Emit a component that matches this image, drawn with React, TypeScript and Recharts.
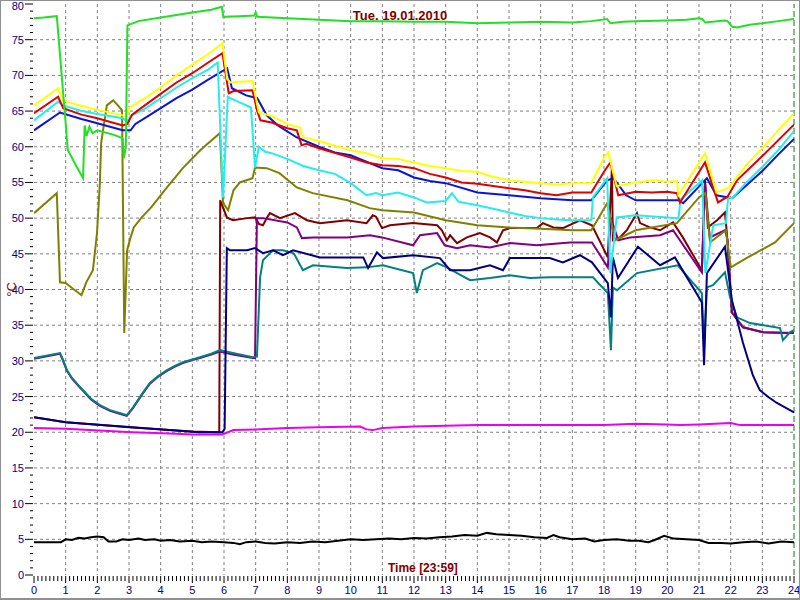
import React from 'react';
import { LineChart, Line, XAxis, YAxis, CartesianGrid, ReferenceLine } from 'recharts';

// hours 0..24, temperature in °C; each series is [time, value]
const greenSeries: [number, number][] = [
    [0, 78.0], [0.3, 78.1], [0.72, 78.3], [1.07, 59.5], [1.36, 57.1], [1.55, 55.6], [1.6, 63.0],
    [1.66, 61.5], [1.75, 62.8], [1.85, 61.9], [2.0, 62.3], [2.5, 61.7], [2.8, 61.2], [2.84, 58.4],
    [2.9, 60.0], [2.95, 77.0], [3.3, 77.6], [4.0, 78.1], [5.0, 78.8], [5.6, 79.2], [5.93, 79.6],
    [5.98, 78.2], [6.5, 78.3], [6.95, 78.4], [7.0, 78.8], [7.05, 78.2], [8, 78.0], [9, 77.8],
    [10, 77.6], [11, 77.6], [12, 77.5], [13, 77.5], [14, 77.3], [15, 77.4], [16, 77.5], [17, 77.4],
    [17.6, 77.6], [18.1, 77.9], [18.2, 77.3], [18.6, 77.5], [19, 77.6], [20, 77.7], [20.6, 77.8],
    [21.0, 78.0], [21.1, 77.9], [21.2, 77.4], [21.8, 77.7], [21.9, 77.6], [22.05, 76.8], [22.2, 76.7],
    [22.6, 77.1], [23, 77.3], [23.5, 77.6], [24, 77.9],
];

const yellowSeries: [number, number][] = [
    [0, 65.8], [0.76, 68.2], [0.92, 66.5], [1.5, 65.7], [2.0, 65.2], [2.8, 64.4], [2.92, 64.2],
    [3.0, 65.4], [3.5, 66.8], [4, 68.3], [4.5, 70.0], [5, 71.5], [5.5, 73.0], [5.95, 74.5],
    [6.1, 69.5], [6.2, 69.0], [6.5, 69.1], [6.9, 69.2], [7.0, 67.0], [7.1, 64.8], [7.5, 64.3],
    [8.0, 63.2], [8.4, 62.7], [8.5, 61.3], [9, 60.8], [10, 59.5], [10.5, 59.1], [11, 58.4],
    [11.5, 58.3], [12, 57.8], [12.5, 57.3], [13, 57.0], [13.5, 56.6], [14, 56.5], [14.5, 55.8],
    [15, 55.3], [16, 54.9], [16.5, 54.7], [17.0, 54.9], [17.6, 54.9], [18.0, 58.5], [18.13, 59.2],
    [18.4, 54.5], [19, 55.0], [19.5, 55.3], [20, 55.1], [20.3, 55.2], [20.35, 53.2], [21.19, 59.1],
    [21.55, 53.6], [21.95, 54.3], [22.5, 57.5], [23, 59.8], [23.5, 62.3], [24, 64.7],
];

const redSeries: [number, number][] = [
    [0, 64.7], [0.76, 67.0], [0.92, 65.4], [1.5, 64.5], [2, 64.0], [2.8, 63.0], [2.95, 63.2],
    [3.1, 64.5], [3.5, 65.8], [4, 67.4], [4.5, 69.0], [5, 70.3], [5.5, 71.8], [5.95, 73.1],
    [6.15, 67.5], [6.3, 67.8], [6.9, 67.9], [7.05, 65.0], [7.15, 63.7], [7.5, 63.4], [8.0, 62.6],
    [8.3, 62.3], [8.45, 60.2], [8.6, 60.4], [9, 59.8], [10, 58.5], [10.5, 57.8], [11, 57.4],
    [11.5, 57.3], [12, 57.0], [12.5, 56.2], [13, 55.7], [13.5, 55.0], [14, 54.8], [15, 54.2],
    [15.5, 53.9], [16, 53.5], [16.5, 53.2], [17, 53.6], [17.6, 53.6], [18.0, 56.5], [18.2, 57.8],
    [18.45, 53.2], [19, 53.7], [19.5, 53.6], [20, 53.7], [20.3, 53.5], [20.4, 52.2], [21.19, 57.8],
    [21.6, 52.2], [21.9, 53.0], [22.2, 55.3], [23, 58.7], [24, 63.1],
];

const cyanSeries: [number, number][] = [
    [0, 63.7], [0.76, 66.3], [0.92, 65.8], [1.5, 65.0], [2, 64.6], [2.8, 64.0], [2.95, 63.5],
    [3.05, 64.3], [3.5, 65.3], [4, 66.8], [4.5, 68.3], [5, 69.6], [5.5, 70.8], [5.8, 71.8],
    [5.97, 52.9], [6.12, 67.0], [6.2, 66.8], [6.6, 66.0], [6.85, 65.5], [6.98, 57.1], [7.1, 60.0],
    [7.3, 59.3], [7.5, 59.1], [8, 58.3], [8.5, 57.3], [9, 56.7], [9.5, 56.2], [10, 54.9],
    [10.5, 53.2], [10.8, 53.5], [11, 53.2], [11.5, 53.6], [12, 52.9], [12.4, 52.2], [13, 52.4],
    [13.2, 53.5], [13.4, 52.3], [14, 51.8], [14.5, 51.3], [15, 50.8], [15.5, 50.3], [16, 50.0],
    [16.5, 49.8], [17, 49.7], [17.6, 49.7], [17.65, 52.9], [18.1, 55.6], [18.2, 42.3], [18.4, 50.1],
    [19, 50.4], [20.35, 50.0], [20.42, 52.6], [21.1, 55.3], [21.2, 42.3], [21.45, 49.0], [21.85, 49.3],
    [21.92, 52.9], [22.05, 52.8], [22.5, 55.0], [23, 57.2], [23.5, 59.5], [24, 62.2],
];

const blueSeries: [number, number][] = [
    [0, 62.3], [0.82, 64.8], [1.5, 63.9], [2, 63.3], [2.8, 62.3], [3.05, 62.3], [3.2, 63.2],
    [3.5, 64.0], [4, 65.4], [4.5, 66.8], [5, 68.0], [5.5, 69.4], [6.1, 71.0], [6.25, 68.2],
    [6.7, 67.2], [7.05, 66.8], [7.35, 64.4], [7.7, 63.0], [8.3, 61.3], [9, 60.0], [9.5, 59.2],
    [10, 58.8], [11, 57.0], [11.5, 56.7], [12, 55.7], [12.5, 55.2], [13, 54.9], [14, 53.6],
    [15, 53.2], [16, 52.8], [17, 52.5], [17.6, 52.5], [18.1, 55.3], [18.3, 55.6], [18.7, 53.2],
    [19, 52.5], [20.35, 52.5], [20.5, 52.1], [21.25, 55.6], [21.55, 53.2], [22.05, 52.8],
    [22.5, 54.6], [23, 56.6], [23.5, 58.9], [24, 61.1],
];

const oliveSeries: [number, number][] = [
    [0, 50.7], [0.72, 53.5], [0.82, 41.0], [1.0, 40.9], [1.2, 40.2], [1.5, 39.2], [1.65, 41.0],
    [1.86, 42.7], [1.99, 47.9], [2.08, 54.9], [2.12, 60.5], [2.3, 65.8], [2.5, 66.5], [2.65, 65.8],
    [2.78, 65.1], [2.85, 33.9], [2.94, 45.5], [3.05, 47.3], [3.15, 48.7], [3.4, 50.1], [3.7, 51.5],
    [4.2, 54.3], [4.7, 57.0], [5.25, 59.5], [5.5, 60.5], [5.87, 61.9], [5.97, 52.1], [6.13, 51.1],
    [6.3, 53.9], [6.5, 55.0], [6.9, 55.6], [6.98, 57.1], [7.35, 57.0], [7.75, 56.3], [8.3, 54.3],
    [8.8, 53.5], [9.9, 52.5], [10.6, 51.4], [11.0, 51.1], [12, 50.8], [13, 49.7], [14, 49.0],
    [15, 48.7], [16, 48.5], [17, 48.3], [17.6, 48.3], [18.1, 52.1], [18.35, 46.9], [19.0, 48.3],
    [20.3, 49.3], [21.0, 52.9], [21.2, 53.5], [21.35, 46.6], [21.85, 48.3], [22.0, 43.1],
    [22.5, 44.4], [23.4, 46.6], [24, 49.3],
];

const maroonSeries: [number, number][] = [
    [0, 22.1], [1, 21.4], [3, 20.7], [5, 20.1], [5.85, 20.0], [5.88, 52.5], [6.09, 50.1],
    [6.28, 49.7], [6.73, 50.0], [6.98, 50.1], [7.1, 49.2], [7.23, 49.0], [7.36, 50.1], [7.45, 50.7],
    [7.77, 50.0], [8.24, 50.7], [8.62, 49.7], [9.03, 49.3], [9.88, 49.7], [10.5, 49.3], [10.7, 50.4],
    [10.8, 50.2], [10.99, 48.6], [11.24, 49.0], [11.97, 49.3], [12.73, 49.0], [12.88, 48.3],
    [13.04, 46.9], [13.14, 47.6], [13.36, 46.5], [13.67, 47.3], [14.08, 47.9], [14.4, 47.3],
    [14.62, 46.6], [14.81, 48.3], [15.03, 48.6], [15.88, 48.6], [16.07, 49.3], [16.4, 48.7],
    [16.7, 48.6], [17.24, 49.7], [17.62, 49.0], [18.12, 44.5], [18.25, 57.0], [18.28, 46.9],
    [18.5, 47.3], [18.72, 48.3], [19.04, 50.7], [19.14, 49.3], [19.45, 48.7], [19.77, 48.3],
    [20.18, 49.4], [20.49, 47.3], [21.09, 42.7], [21.19, 55.3], [21.28, 48.7], [21.57, 49.7],
    [21.82, 50.8], [21.88, 47.9], [22.04, 36.8], [22.39, 34.7], [23.02, 34.0], [24, 33.9],
];

const purpleSeries: [number, number][] = [
    [0, 30.3], [0.82, 31.0], [0.9, 30.2], [1.04, 28.6], [1.2, 27.5], [1.4, 26.5], [1.55, 25.8],
    [1.8, 24.6], [2.08, 23.7], [2.4, 23.0], [2.7, 22.6], [2.93, 22.3], [3.13, 23.4], [3.4, 25.2],
    [3.66, 26.8], [3.9, 27.7], [4.2, 28.6], [4.45, 29.2], [4.7, 29.7], [5.0, 30.1], [5.24, 30.4],
    [5.6, 30.9], [5.87, 31.3], [6.28, 30.9], [6.91, 30.4], [6.98, 30.4], [7.04, 50.0], [7.23, 50.0],
    [8.0, 49.4], [8.3, 48.7], [8.46, 47.2], [8.81, 47.3], [9.88, 47.3], [10.61, 47.6], [10.99, 47.3],
    [11.97, 46.2], [12.19, 47.6], [12.73, 47.9], [12.97, 46.2], [13.36, 45.8], [13.77, 46.2],
    [14.4, 45.9], [15.03, 46.5], [15.88, 46.2], [16.92, 46.6], [17.62, 46.6], [18.12, 43.1],
    [18.22, 50.0], [18.45, 46.9], [18.83, 47.3], [19.77, 47.6], [20.18, 48.3], [21.09, 42.4],
    [21.19, 54.9], [21.34, 47.3], [21.82, 48.3], [21.9, 47.0], [22.04, 36.8], [22.39, 34.7],
    [23.02, 34.0], [23.65, 33.9], [24, 33.9],
];

const tealSeries: [number, number][] = [
    [0, 30.4], [0.82, 31.1], [0.9, 30.3], [1.04, 28.7], [1.2, 27.6], [1.4, 26.6], [1.55, 25.9],
    [1.8, 24.7], [2.08, 23.8], [2.4, 23.1], [2.7, 22.7], [2.93, 22.4], [3.13, 23.5], [3.4, 25.3],
    [3.66, 26.9], [3.9, 27.8], [4.2, 28.7], [4.45, 29.3], [4.7, 29.8], [5.0, 30.2], [5.24, 30.5],
    [5.6, 31.0], [5.87, 31.5], [6.28, 31.1], [6.91, 30.5], [7.04, 30.6], [7.14, 41.7], [7.23, 44.1],
    [7.55, 45.5], [7.86, 45.5], [8.18, 45.1], [8.24, 44.8], [8.49, 42.7], [8.81, 43.4], [9.88, 43.0],
    [10.51, 43.1], [11.02, 43.4], [11.97, 42.3], [12.09, 39.5], [12.28, 42.7], [12.73, 43.7],
    [13.04, 43.1], [13.36, 42.3], [13.77, 41.3], [14.4, 41.6], [15.03, 42.0], [15.66, 41.6],
    [16.29, 41.7], [17.65, 41.7], [18.12, 39.5], [18.22, 31.5], [18.28, 40.3], [18.41, 39.9],
    [19.04, 42.3], [20.33, 43.4], [21.09, 39.5], [21.16, 31.9], [21.25, 40.3], [21.44, 40.6],
    [21.82, 42.4], [21.98, 38.9], [22.2, 36.1], [22.61, 35.3], [23.56, 34.6], [23.65, 32.9],
    [23.87, 34.0], [24, 34.3],
];

const navySeries: [number, number][] = [
    [0, 22.1], [1.0, 21.4], [3.1, 20.7], [5.2, 20.0], [5.95, 20.0], [6.02, 20.5], [6.09, 45.8],
    [6.19, 45.5], [6.73, 45.5], [6.98, 45.8], [7.23, 45.1], [7.55, 45.5], [7.86, 44.8], [8.18, 45.5],
    [9.03, 44.5], [10.4, 44.5], [10.55, 43.0], [10.83, 45.2], [11.02, 44.4], [11.97, 44.8],
    [12.82, 44.4], [13.14, 42.7], [13.77, 42.7], [14.4, 43.4], [14.81, 42.7], [15.03, 44.4],
    [16.29, 44.4], [16.7, 43.8], [17.24, 44.8], [17.62, 43.8], [18.12, 40.9], [18.22, 36.1],
    [18.28, 44.5], [18.44, 41.6], [19.07, 46.0], [19.77, 43.4], [20.24, 44.5], [21.09, 38.2],
    [21.16, 29.4], [21.25, 42.3], [21.82, 46.0], [22.04, 38.5], [22.39, 32.5], [22.7, 28.0],
    [22.92, 25.9], [23.2, 24.9], [23.46, 24.1], [24, 22.8],
];

const magentaSeries: [number, number][] = [
    [0, 20.6], [1, 20.5], [3.1, 20.0], [4.5, 19.8], [5.0, 19.7], [5.95, 19.7], [6.3, 20.3],
    [7, 20.4], [8, 20.6], [9, 20.7], [10.3, 20.8], [10.5, 20.4], [10.7, 20.3], [11, 20.6],
    [12, 20.8], [13, 20.9], [14, 21.0], [15, 21.0], [16, 21.0], [17, 21.0], [18, 21.0],
    [19, 21.2], [20, 21.1], [20.4, 21.0], [21, 21.1], [22, 21.3], [22.3, 21.0], [23, 21.0], [24, 21.0],
];

const blackSeries: [number, number][] = [
    [0, 4.6], [0.5, 4.6], [0.85, 4.6], [1.0, 5.0], [1.2, 4.9], [1.4, 5.2], [1.6, 5.1], [1.8, 5.3],
    [2.0, 5.4], [2.2, 5.3], [2.35, 4.7], [2.6, 4.7], [2.8, 5.0], [3.0, 4.9], [3.3, 5.1], [3.5, 4.9],
    [3.8, 5.0], [4.0, 4.8], [4.3, 4.9], [4.6, 4.7], [5.0, 4.8], [5.3, 4.6], [5.6, 4.7], [6.0, 4.6],
    [6.3, 4.5], [6.5, 4.3], [6.7, 4.6], [7.0, 4.7], [7.3, 4.5], [7.6, 4.4], [8.0, 4.6], [8.4, 4.5],
    [8.8, 4.7], [9.2, 4.6], [9.6, 4.8], [10.0, 5.0], [10.4, 4.9], [10.8, 5.0], [11.2, 5.1],
    [11.6, 5.0], [12.0, 5.2], [12.4, 5.1], [12.8, 5.3], [13.2, 5.4], [13.6, 5.6], [14.0, 5.5],
    [14.3, 5.9], [14.6, 5.7], [15.0, 5.6], [15.4, 5.5], [15.8, 5.3], [16.2, 5.2], [16.4, 5.6],
    [16.6, 5.3], [17.0, 5.0], [17.4, 5.1], [17.7, 4.7], [18.0, 4.9], [18.4, 5.0], [18.8, 4.8],
    [19.1, 4.8], [19.4, 4.6], [19.6, 4.9], [19.9, 5.5], [20.2, 5.1], [20.6, 5.0], [21.0, 4.9],
    [21.3, 4.5], [21.7, 4.5], [22.0, 4.4], [22.4, 4.6], [22.8, 4.7], [23.2, 4.4], [23.6, 4.7], [24, 4.6],
];

const yMajorTicks = [0, 5, 10, 15, 20, 25, 30, 35, 40, 45, 50, 55, 60, 65, 70, 75, 80];
const xMajorTicks = [0, 1, 2, 3, 4, 5, 6, 7, 8, 9, 10, 11, 12, 13, 14, 15, 16, 17, 18, 19, 20, 21, 22, 23, 24];
const yTicks = Array.from({ length: 81 }, (_, i) => i);
const xTicks = Array.from({ length: 24 * 8 + 1 }, (_, i) => i / 8);

const TITLE = 'Tue. 19.01.2010';
const X_LABEL = 'Time [23:59]';
const Y_LABEL = '°C';

// drawing order: first is at the bottom
const SERIES = [
    { name: 'magenta', data: magentaSeries, color: '#ee00ee' },
    { name: 'black', data: blackSeries, color: '#000000' },
    { name: 'maroon', data: maroonSeries, color: '#800000' },
    { name: 'purple', data: purpleSeries, color: '#800080' },
    { name: 'teal', data: tealSeries, color: '#008080' },
    { name: 'navy', data: navySeries, color: '#000080' },
    { name: 'olive', data: oliveSeries, color: '#808000' },
    { name: 'blue', data: blueSeries, color: '#0a14d8' },
    { name: 'cyan', data: cyanSeries, color: '#22eeee' },
    { name: 'red', data: redSeries, color: '#e00000' },
    { name: 'yellow', data: yellowSeries, color: '#ffff00' },
    { name: 'green', data: greenSeries, color: '#22e022' },
];

const FONT = '"Liberation Sans", Arial, sans-serif';

const isMajor = (v: number) => Math.abs(v - Math.round(v)) < 1e-6;

const YTick = (props: any) => {
    const { x, y, payload } = props;
    const v = payload.value;
    const major = v % 5 === 0;
    return (
        <g>
            <line x1={x - 1} x2={x - (major ? 9 : 4)} y1={y} y2={y} stroke="#000" />
            {major && (
                <text x={x - 10} y={v === 80 ? y + 6 : y + 4} textAnchor="end" fontSize={11} fill="#000080" fontFamily={FONT}>
                    {v}
                </text>
            )}
        </g>
    );
};

const XTick = (props: any) => {
    const { x, y, payload } = props;
    const v = payload.value;
    const major = isMajor(v) && xMajorTicks.includes(Math.round(v));
    return (
        <g>
            <line x1={x} x2={x} y1={y + 1} y2={y + (major ? 8 : 6)} stroke="#000" />
            {major && (
                <text x={x} y={y + 19} textAnchor="middle" fontSize={11} fill="#000080" fontFamily={FONT}>
                    {Math.round(v)}
                </text>
            )}
        </g>
    );
};

export default function App() {
    return (
        <div style={{ position: 'relative', width: 800, height: 600, background: '#fff' }}>
            <style>{`body{margin:0}`}</style>
            <LineChart width={800} height={600} margin={{ top: 4, right: 6, left: 0, bottom: 0 }}>
                <CartesianGrid
                    strokeDasharray="3 3"
                    stroke="#808080"
                    horizontalValues={yMajorTicks.filter(v => v > 0 && v < 80)}
                    verticalValues={xMajorTicks.filter(v => v > 0 && v < 24)}
                />
                <XAxis
                    type="number"
                    dataKey="t"
                    domain={[0, 24]}
                    ticks={xTicks}
                    interval={0}
                    height={25}
                    tickSize={0}
                    tickMargin={0}
                    axisLine={false}
                    tickLine={false}
                    tick={<XTick />}
                    allowDataOverflow
                />
                <YAxis
                    type="number"
                    domain={[0, 80]}
                    ticks={yTicks}
                    interval={0}
                    width={34}
                    tickSize={0}
                    tickMargin={0}
                    axisLine={false}
                    tickLine={false}
                    tick={<YTick />}
                    allowDataOverflow
                />
                <ReferenceLine x={24} stroke="#008000" strokeDasharray="6 3" />
                {SERIES.map(s => (
                    <Line
                        key={s.name}
                        data={s.data.map(([t, v]) => ({ t, v }))}
                        dataKey="v"
                        type="linear"
                        stroke={s.color}
                        strokeWidth={2}
                        dot={false}
                        activeDot={false}
                        isAnimationActive={false}
                    />
                ))}
            </LineChart>
            <div style={{ position: 'absolute', left: 0, top: 8, width: 800, textAlign: 'center', color: '#800000', fontFamily: FONT, fontWeight: 'bold', fontSize: 13 }}>
                {TITLE}
            </div>
            <div style={{ position: 'absolute', left: 388, top: 561, color: '#800000', fontFamily: FONT, fontWeight: 'bold', fontSize: 12 }}>
                {X_LABEL}
            </div>
            <div style={{ position: 'absolute', left: 3, top: 282, width: 16, textAlign: 'center', transform: 'rotate(-90deg)', color: '#800000', fontFamily: FONT, fontSize: 13 }}>
                {Y_LABEL}
            </div>
            <div style={{ position: 'absolute', inset: 0, border: '1px solid #909090', borderBottomWidth: 2, pointerEvents: 'none' }} />
        </div>
    );
}
